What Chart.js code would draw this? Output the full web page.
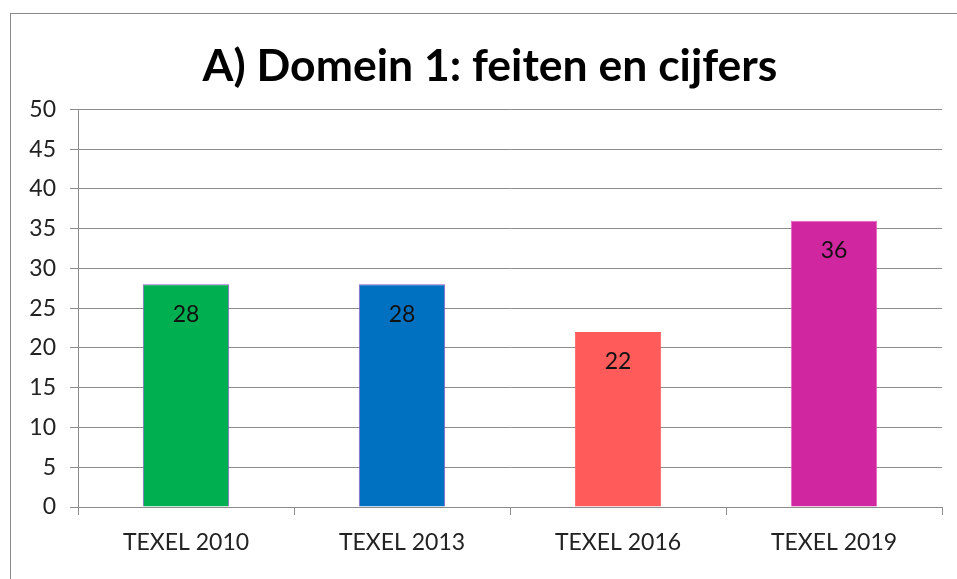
<!DOCTYPE html>
<html>
<head>
<meta charset="utf-8">
<script src="https://cdn.jsdelivr.net/npm/chart.js@4/dist/chart.umd.min.js"></script>
<style>
  html, body { margin: 0; padding: 0; background: #fff; overflow: hidden; }
  #frame { position: absolute; left: 10px; top: 13px; width: 980px; height: 600px; border: 1px solid #8a8a8a; box-sizing: border-box; }
  #c { position: absolute; left: 0; top: 0; }
</style>
</head>
<body>
<div id="frame"></div>
<canvas id="c" width="957" height="579"></canvas>
<script>
const chartTitle = 'A) Domein 1: feiten en cijfers';
const categories = ['TEXEL 2010', 'TEXEL 2013', 'TEXEL 2016', 'TEXEL 2019'];
const values = [28, 28, 22, 36];
const barColors = ['#00B050', '#0070C0', '#FF5B5B', '#D026A0'];
const barBorders = ['#8E5CC8', '#8E5CC8', '#FF5B5B', '#E563C4'];
const yMin = 0, yMax = 50, yStep = 5;

const FONT = 'Lato, "Open Sans", sans-serif';

const dataLabels = {
  id: 'dataLabels',
  afterDatasetsDraw(chart) {
    const ctx = chart.ctx;
    const meta = chart.getDatasetMeta(0);
    ctx.save();
    ctx.font = '23px ' + FONT;
    ctx.fillStyle = '#111';
    ctx.textAlign = 'center';
    ctx.textBaseline = 'middle';
    meta.data.forEach((bar, i) => {
      ctx.fillText(String(values[i]), bar.x, bar.y + 30);
    });
    ctx.restore();
  }
};

// widen the y-axis box to the canvas edge so its labels are not clipped
const widenYAxis = {
  id: 'widenYAxis',
  afterLayout(chart) {
    const y = chart.scales.y;
    y.left = 0;
    y.width = y.right;
  }
};

new Chart(document.getElementById('c'), {
  type: 'bar',
  data: {
    labels: categories,
    datasets: [{
      data: values,
      backgroundColor: barColors,
      borderColor: barBorders,
      borderWidth: 1,
      categoryPercentage: 1,
      barPercentage: 0.4
    }]
  },
  options: {
    responsive: false,
    devicePixelRatio: 1,
    animation: false,
    layout: { padding: { left: 38, right: 15, top: 0, bottom: 0 } },
    plugins: {
      legend: { display: false },
      tooltip: { enabled: false },
      title: {
        display: true,
        text: chartTitle,
        color: '#000',
        font: { family: FONT, size: 44.5, weight: 'bold' },
        padding: { top: 40, bottom: 16 }
      }
    },
    scales: {
      y: {
        min: yMin, max: yMax,
        ticks: { stepSize: yStep, color: '#222', font: { family: FONT, size: 23 }, padding: 14 },
        grid: { color: '#8c8c8c', tickLength: 8, lineWidth: 1 },
        border: { color: '#8c8c8c' },
        afterFit(scale) { scale.width = 40; }
      },
      x: {
        ticks: { color: '#222', font: { family: FONT, size: 23 }, padding: 14 },
        grid: { drawOnChartArea: false, color: '#8c8c8c', tickLength: 8, offset: true },
        border: { color: '#8c8c8c' },
        afterFit(scale) { scale.height = 72; }
      }
    }
  },
  plugins: [dataLabels, widenYAxis]
});
</script>
</body>
</html>
